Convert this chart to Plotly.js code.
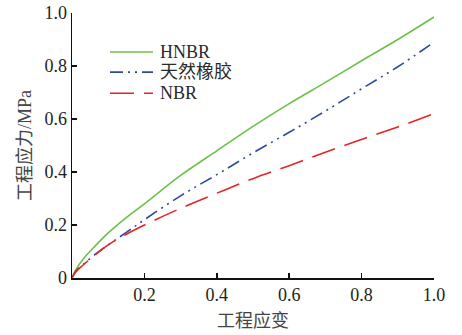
<!DOCTYPE html>
<html>
<head>
<meta charset="utf-8">
<script src="https://cdn.plot.ly/plotly-3.0.1.min.js"></script>
<style>html,body{margin:0;padding:0;background:#fff}#chart{width:462px;height:335px}</style>
</head>
<body>
<div id="chart"></div>
<script>
const strain = [0, 0.01, 0.03, 0.06, 0.1, 0.15, 0.2, 0.3, 0.4, 0.5, 0.6, 0.7, 0.8, 0.9, 1.0];
const hnbr   = [0, 0.03, 0.07, 0.115, 0.17, 0.228, 0.28, 0.387, 0.48, 0.572, 0.658, 0.738, 0.82, 0.90, 0.985];
const natural= [0, 0.025, 0.05, 0.085, 0.125, 0.172, 0.22, 0.31, 0.39, 0.472, 0.55, 0.63, 0.714, 0.797, 0.89];
const nbr    = [0, 0.022, 0.048, 0.083, 0.125, 0.165, 0.20, 0.263, 0.32, 0.375, 0.424, 0.475, 0.523, 0.57, 0.62];
const seriesNames = ["HNBR", "天然橡胶", "NBR"];
const xTickVals = [0.2, 0.4, 0.6, 0.8, 1.0];
const xTickText = ["0.2", "0.4", "0.6", "0.8", "1.0"];
const yTickVals = [0, 0.2, 0.4, 0.6, 0.8, 1.0];
const yTickText = ["0", "0.2", "0.4", "0.6", "0.8", "1.0"];
const xTitle = "工程应变";
const yTitle = "工程应力/MPa";

const colors = ["#6cc04a", "#2b4ba3", "#e52521"];
const dashes = ["solid", "13px,5px,2px,5px,2px,5px", "24px,10px"];
const ys = [hnbr, natural, nbr];
const FONT = "Liberation Serif, Times New Roman, Noto Sans CJK SC, serif";

const traces = ys.map((y, i) => ({
  x: strain, y: y, mode: "lines", name: seriesNames[i],
  line: {color: colors[i], width: 1.6, dash: dashes[i], shape: "spline", smoothing: 1},
  showlegend: false, hoverinfo: "skip"
}));

// custom legend
const legY = [0.853, 0.777, 0.697];
const shapes = [];
const annotations = [];
seriesNames.forEach((n, i) => {
  shapes.push({type: "line", xref: "paper", yref: "paper",
    x0: (110 - 72) / 362, x1: (153 - 72) / 362, y0: legY[i], y1: legY[i],
    line: {color: colors[i], width: 1.6, dash: dashes[i]}});
  annotations.push({xref: "paper", yref: "paper", x: (158 - 72) / 362, y: legY[i],
    xanchor: "left", yanchor: "middle", showarrow: false, text: n,
    font: {family: FONT, size: 18, color: "#2a2a2a"}});
});

const layout = {
  width: 462, height: 335,
  margin: {l: 72, r: 28, t: 13, b: 57},
  paper_bgcolor: "#fff", plot_bgcolor: "#fff",
  font: {family: FONT, size: 18, color: "#222"},
  xaxis: {
    range: [0, 1], tickvals: xTickVals, ticktext: xTickText,
    showline: true, linecolor: "#111", linewidth: 1.5,
    ticks: "inside", ticklen: 5, tickwidth: 1.5, tickcolor: "#111",
    showgrid: false, zeroline: false,
    tickfont: {family: FONT, size: 18, color: "#222"},
    title: {text: xTitle, font: {family: FONT, size: 18, color: "#444"}, standoff: 10}
  },
  yaxis: {
    range: [0, 1], tickvals: yTickVals, ticktext: yTickText,
    showline: true, linecolor: "#111", linewidth: 1.5,
    ticks: "inside", ticklen: 5, tickwidth: 1.5, tickcolor: "#111",
    showgrid: false, zeroline: false,
    tickfont: {family: FONT, size: 18, color: "#222"},
    title: {text: yTitle, font: {family: FONT, size: 18, color: "#444"}, standoff: 8}
  },
  shapes: shapes,
  annotations: annotations
};

Plotly.newPlot("chart", traces, layout, {displayModeBar: false, staticPlot: true});
</script>
</body>
</html>
